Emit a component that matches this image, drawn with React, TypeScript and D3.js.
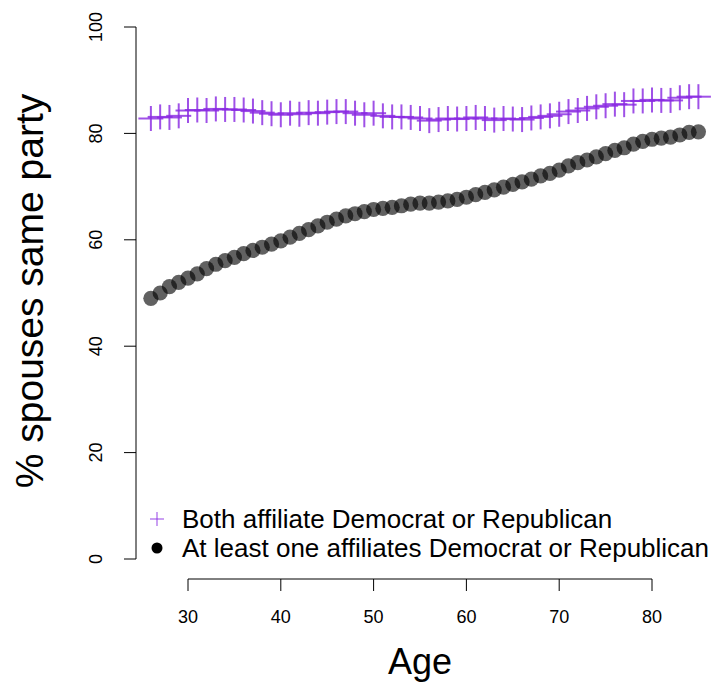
import React from "react";
import * as d3 from "d3";

const ages: number[] = d3.range(26, 86);

const bothValues: number[] = [
  82.8, 83.1, 83.0, 83.3, 84.3, 84.4, 84.3, 84.6, 84.5, 84.5,
  84.4, 84.2, 83.9, 83.7, 83.5, 83.8, 83.6, 83.9, 83.8, 84.0,
  84.1, 84.1, 83.8, 83.5, 83.8, 83.3, 83.1, 83.1, 83.0, 82.8,
  82.4, 82.6, 82.8, 82.7, 82.8, 83.0, 82.8, 82.5, 82.8, 82.7,
  82.6, 82.9, 83.1, 83.3, 83.6, 84.1, 84.3, 84.7, 85.0, 85.2,
  85.5, 85.4, 86.1, 86.1, 86.3, 86.2, 86.2, 86.7, 86.9, 86.9,
];

const atLeastOneValues: number[] = [
  49.0, 50.0, 51.2, 52.0, 52.8, 53.6, 54.6, 55.4, 56.1, 56.7,
  57.4, 58.0, 58.6, 59.2, 59.8, 60.5, 61.2, 61.9, 62.6, 63.3,
  63.9, 64.5, 64.9, 65.3, 65.7, 65.9, 66.1, 66.4, 66.7, 66.9,
  66.9, 67.1, 67.3, 67.6, 68.0, 68.5, 68.9, 69.4, 69.9, 70.4,
  70.9, 71.4, 72.0, 72.5, 73.1, 73.9, 74.5, 75.0, 75.6, 76.2,
  76.8, 77.3, 78.0, 78.5, 78.9, 79.1, 79.3, 79.7, 80.2, 80.3,
];

const xTicks: number[] = [30, 40, 50, 60, 70, 80];
const yTicks: number[] = [0, 20, 40, 60, 80, 100];
const legendLabels: string[] = [
  "Both affiliate Democrat or Republican",
  "At least one affiliates Democrat or Republican",
];
const xTitle = "Age";
const yTitle = "% spouses same party";

const FONT = "'Liberation Sans', Arial, Helvetica, sans-serif";
const PURPLE = "#8a2be2";

export default function App() {
  const x = d3.scaleLinear().domain([30, 80]).range([188, 652]);
  const y = d3.scaleLinear().domain([0, 100]).range([559, 27]);
  const axisX = 136;
  const axisY = 579;
  const tick = 12;
  const half = 12.5;

  return (
    <svg
      width={711}
      height={685}
      style={{ position: "absolute", left: 0, top: 0, background: "#fff" }}
      fontFamily={FONT}
    >
      {/* black circles */}
      <g>
        {ages.map((a, i) => (
          <circle
            key={"c" + a}
            cx={x(a)}
            cy={y(atLeastOneValues[i])}
            r={7.6}
            fill="#000"
            fillOpacity={0.62}
          />
        ))}
      </g>
      {/* purple crosses */}
      <g stroke={PURPLE} strokeWidth={2} strokeOpacity={0.82}>
        {ages.map((a, i) => {
          const cx = x(a);
          const cy = y(bothValues[i]);
          return (
            <g key={"p" + a}>
              <line x1={cx} x2={cx} y1={cy - half} y2={cy + half} />
              <line x1={cx - half} x2={cx + half} y1={cy} y2={cy} />
            </g>
          );
        })}
      </g>

      {/* y axis */}
      <g stroke="#000" strokeWidth={1}>
        <line x1={axisX} x2={axisX} y1={y(0)} y2={y(100)} />
        {yTicks.map((t) => (
          <line key={"yt" + t} x1={axisX - tick} x2={axisX} y1={y(t)} y2={y(t)} />
        ))}
      </g>
      {yTicks.map((t) => (
        <text
          key={"yl" + t}
          transform={`translate(96,${y(t)}) rotate(-90)`}
          textAnchor="middle"
          dominantBaseline="central"
          fontSize={18}
          fill="#000"
        >
          {t}
        </text>
      ))}

      {/* x axis */}
      <g stroke="#000" strokeWidth={1}>
        <line x1={x(30)} x2={x(80)} y1={axisY} y2={axisY} />
        {xTicks.map((t) => (
          <line key={"xt" + t} x1={x(t)} x2={x(t)} y1={axisY} y2={axisY + tick} />
        ))}
      </g>
      {xTicks.map((t) => (
        <text
          key={"xl" + t}
          x={x(t)}
          y={617}
          textAnchor="middle"
          dominantBaseline="central"
          fontSize={18}
          fill="#000"
        >
          {t}
        </text>
      ))}

      {/* titles */}
      <text x={420} y={674} textAnchor="middle" fontSize={36} fill="#000">
        {xTitle}
      </text>
      <text
        transform={`translate(43,291) rotate(-90)`}
        textAnchor="middle"
        fontSize={39}
        fill="#000"
      >
        {yTitle}
      </text>

      {/* legend */}
      <g>
        <line x1={150} x2={164} y1={519} y2={519} stroke={PURPLE} strokeOpacity={0.75} strokeWidth={1.2} />
        <line x1={157} x2={157} y1={512} y2={526} stroke={PURPLE} strokeOpacity={0.75} strokeWidth={1.2} />
        <circle cx={157} cy={548} r={5.5} fill="#000" />
        <text x={182} y={528} fontSize={26} fill="#000">
          {legendLabels[0]}
        </text>
        <text x={182} y={557} fontSize={26} fill="#000">
          {legendLabels[1]}
        </text>
      </g>
    </svg>
  );
}
